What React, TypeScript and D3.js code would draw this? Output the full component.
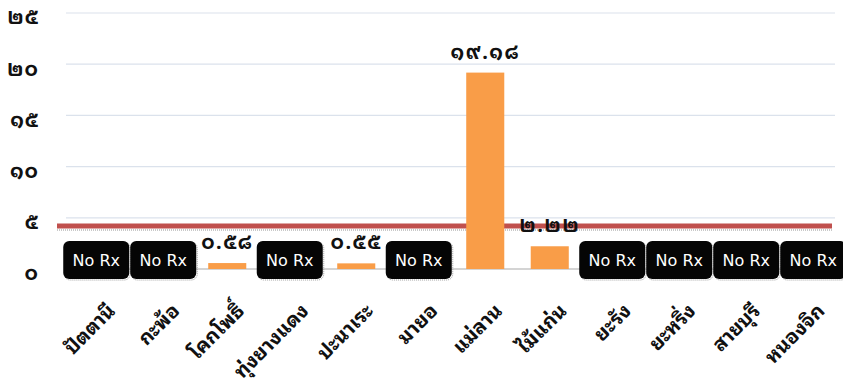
import React from "react";
import * as d3 from "d3";

// Districts of Pattani province and their rates
const categories = [
  "ปัตตานี",
  "กะพ้อ",
  "โคกโพธิ์",
  "ทุ่งยางแดง",
  "ปะนาเระ",
  "มายอ",
  "แม่ลาน",
  "ไม้แก่น",
  "ยะรัง",
  "ยะหริ่ง",
  "สายบุรี",
  "หนองจิก",
];
// null = no prescription data ("No Rx")
const values: (number | null)[] = [null, null, 0.58, null, 0.55, null, 19.18, 2.22, null, null, null, null];
const targetLine = 4.2;
const yTicks = [0, 5, 10, 15, 20, 25];
const noDataLabel = "No Rx";

const W = 843;
const H = 389;
const thaiDigits = "๐๑๒๓๔๕๖๗๘๙";
const toThai = (s: string) => s.replace(/[0-9]/g, (d) => thaiDigits[+d]);

const THAI_FONT = "'Noto Looped Thai', 'Noto Sans Thai Looped', 'Noto Sans Thai', Loma, Tahoma, 'Noto Sans', sans-serif";

export default function App() {
  const x = d3.scaleBand<string>().domain(categories).range([66, 840]).paddingInner(0.41).paddingOuter(0.205);
  const y = d3.scaleLinear().domain([0, 25]).range([269, 13]);
  const bw = x.bandwidth();
  const boxW = 66;
  const boxH = 38;

  // "No Rx" boxes sit on their category; a box that would overlap its left
  // neighbour is pushed right
  let prevRight = -Infinity;
  const boxes = values.map((v, k) => {
    if (v != null) {
      prevRight = -Infinity;
      return null;
    }
    const cx = x(categories[k])! + bw / 2;
    const left = Math.max(57, cx - boxW / 2 - 2, prevRight + 1);
    prevRight = left + boxW;
    return left;
  });

  return (
    <svg
      width={W}
      height={H}
      style={{ position: "absolute", left: 0, top: 0, background: "#fff" }}
    >
      {/* gridlines */}
      {yTicks.slice(1).map((t) => (
        <line key={t} x1={66} x2={835} y1={y(t)} y2={y(t)} stroke="#dbe2ec" strokeWidth={1.2} />
      ))}
      {/* baseline */}
      <line x1={66} x2={835} y1={y(0)} y2={y(0)} stroke="#d4d4d4" strokeWidth={2} />

      {/* y tick labels */}
      {yTicks.map((t) => (
        <text
          key={t}
          x={39}
          y={y(t) + 6}
          textAnchor="end"
          dominantBaseline="middle"
          fontFamily={THAI_FONT}
          fontWeight="bold"
          fontSize={20}
          letterSpacing={1}
          fill="#111"
        >
          {toThai(String(t))}
        </text>
      ))}

      {/* target line with soft shadow */}
      <line x1={57} x2={832} y1={y(targetLine) + 4} y2={y(targetLine) + 4} stroke="#b8b8b8" strokeWidth={1.5} strokeDasharray="1 1" />
      <line x1={57} x2={832} y1={y(targetLine)} y2={y(targetLine)} stroke="#c0504d" strokeWidth={5} />

      {/* bars */}
      {values.map((v, k) =>
        v == null ? null : (
          <rect
            key={categories[k]}
            x={x(categories[k])!}
            y={y(v)}
            width={bw}
            height={y(0) - y(v)}
            fill="#f99d48"
          />
        )
      )}

      {/* value labels */}
      {values.map((v, k) =>
        v == null ? null : (
          <text
            key={"v" + k}
            x={x(categories[k])! + bw / 2}
            y={y(v) - 14}
            textAnchor="middle"
            fontFamily={THAI_FONT}
            fontWeight="bold"
            fontSize={20}
            letterSpacing={1.5}
            fill="#111"
          >
            {toThai(v.toFixed(2))}
          </text>
        )
      )}

      {/* No Rx boxes */}
      {boxes.map((left, k) => {
        if (left == null) return null;
        return (
          <g key={"n" + k}>
            <rect x={left + 1} y={242} width={boxW} height={boxH} rx={6} fill="none" stroke="#9a9a9a" strokeWidth={1} strokeDasharray="1 1" />
            <rect x={left} y={241} width={boxW} height={boxH} rx={6} fill="#050505" />
            <text
              x={left + boxW / 2}
              y={266}
              textAnchor="middle"
              fontFamily="'DejaVu Sans', Verdana, sans-serif"
              fontSize={16}
              fill="#fff"
            >
              {noDataLabel}
            </text>
          </g>
        );
      })}

      {/* category labels */}
      {categories.map((c) => {
        const cx = x(c)! + bw / 2 + 4;
        return (
          <text
            key={c}
            transform={`translate(${cx},${298}) rotate(-45)`}
            textAnchor="end"
            dominantBaseline="hanging"
            fontFamily={THAI_FONT}
            fontWeight="bold"
            fontSize={20}
            fill="#111"
          >
            {c}
          </text>
        );
      })}
    </svg>
  );
}
